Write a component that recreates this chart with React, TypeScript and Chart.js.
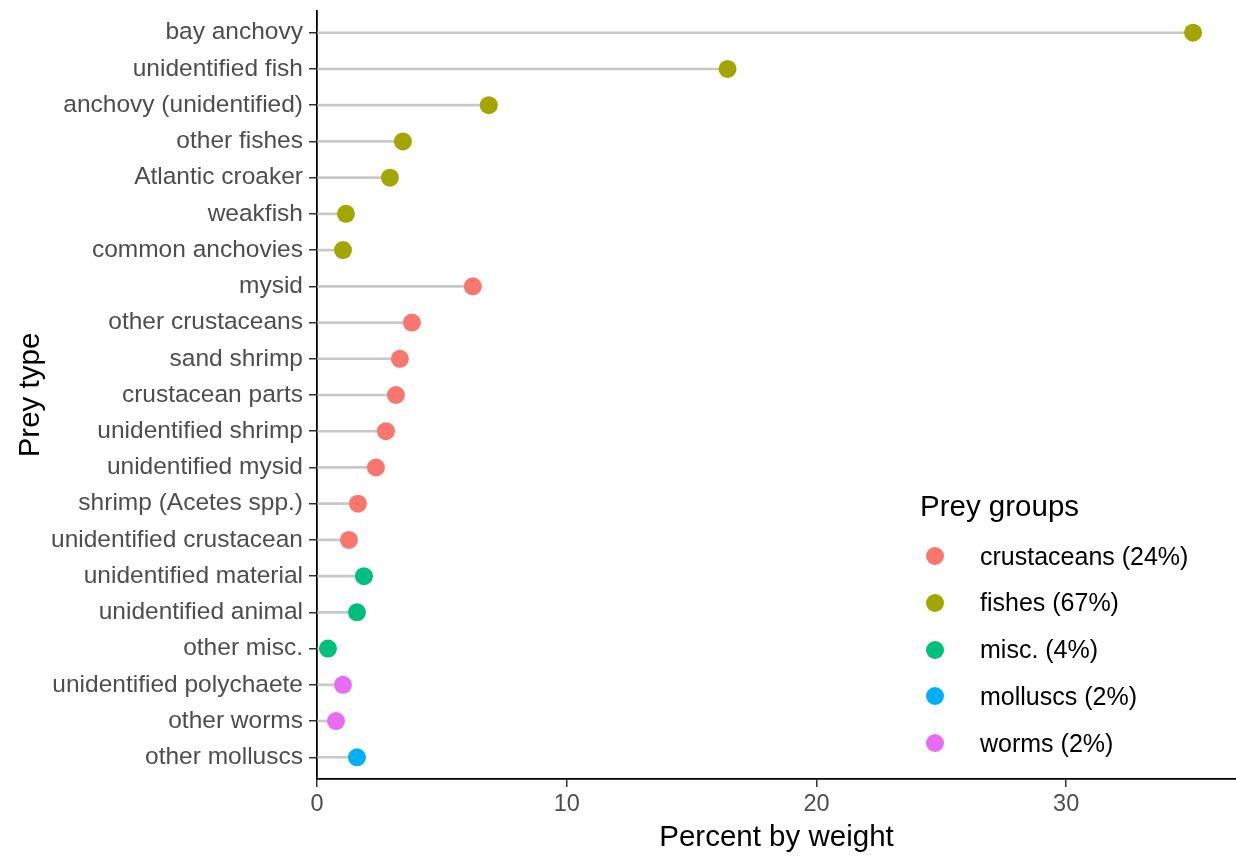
import React, { useEffect, useRef } from "react";
import { Chart, registerables } from "chart.js";

Chart.register(...registerables);

const categories = [
  "bay anchovy", "unidentified fish", "anchovy (unidentified)", "other fishes", "Atlantic croaker",
  "weakfish", "common anchovies", "mysid", "other crustaceans", "sand shrimp", "crustacean parts",
  "unidentified shrimp", "unidentified mysid", "shrimp (Acetes spp.)", "unidentified crustacean",
  "unidentified material", "unidentified animal", "other misc.", "unidentified polychaete",
  "other worms", "other molluscs",
];
const values = [
  35.08, 16.44, 6.88, 3.44, 2.92, 1.16, 1.04, 6.24, 3.8, 3.32, 3.16, 2.76, 2.36, 1.64, 1.28,
  1.88, 1.6, 0.44, 1.04, 0.76, 1.6,
];
const groups = [
  "fishes", "fishes", "fishes", "fishes", "fishes", "fishes", "fishes",
  "crustaceans", "crustaceans", "crustaceans", "crustaceans", "crustaceans", "crustaceans", "crustaceans", "crustaceans",
  "misc.", "misc.", "misc.", "worms", "worms", "molluscs",
];
const groupNames = ["crustaceans", "fishes", "misc.", "molluscs", "worms"];
const groupLabels = ["crustaceans (24%)", "fishes (67%)", "misc. (4%)", "molluscs (2%)", "worms (2%)"];
const groupColors = ["#F8766D", "#A3A500", "#00BF7D", "#00B0F6", "#E76BF3"];
const xTicks = [0, 10, 20, 30];

const FONT = "'Liberation Sans', Arial, sans-serif";

export default function App() {
  const ref = useRef<HTMLCanvasElement>(null);
  useEffect(() => {
    const ctx = ref.current!;
    const stems = {
      type: "bar" as const,
      label: "stems",
      data: values.map((v, i) => ({ x: v, y: i })),
      backgroundColor: "#C8C8C8",
      borderWidth: 0,
      barThickness: 2,
      indexAxis: "y" as const,
      order: 10,
    };
    const pts = groupNames.map((g, gi) => ({
      type: "scatter" as const,
      label: groupLabels[gi],
      data: values
        .map((v, i) => ({ x: v, y: i, g: groups[i] }))
        .filter((d) => d.g === g)
        .map((d) => ({ x: d.x, y: d.y })),
      backgroundColor: groupColors[gi],
      borderColor: groupColors[gi],
      borderWidth: 0,
      pointRadius: 9,
      pointHoverRadius: 9,
      order: 1,
    }));
    const chart = new Chart(ctx, {
      type: "bar",
      data: { datasets: [stems as any, ...(pts as any)] },
      options: {
        animation: false,
        responsive: false,
        indexAxis: "y",
        layout: { padding: { top: 11, right: 0, left: 0, bottom: 0 } },
        plugins: { legend: { display: false }, tooltip: { enabled: false } },
        scales: {
          x: {
            type: "linear",
            position: "bottom",
            min: 0,
            max: 36.8,
            offset: false,
            afterFit: (s: any) => { s.height = 79; s.paddingLeft = 0; s.paddingRight = 0; },
            afterBuildTicks: (s: any) => { s.ticks = xTicks.map((v) => ({ value: v })); },
            grid: { display: true, offset: false, drawOnChartArea: false, drawTicks: true, tickLength: 8, color: "#333333", lineWidth: 1.5 },
            border: { display: true, color: "#000000", width: 1.8 },
            ticks: { color: "#4D4D4D", font: { family: FONT, size: 23.5 }, padding: 3, includeBounds: false },
            title: { display: true, text: "Percent by weight", color: "#000000", font: { family: FONT, size: 29.5 }, padding: { top: 4, bottom: 2 } },
          },
          y: {
            type: "linear",
            position: "left",
            reverse: true,
            min: -0.6,
            max: 20.6,
            offset: false,
            afterFit: (s: any) => { s.width = 317; s.paddingTop = 0; s.paddingBottom = 0; },
            afterBuildTicks: (s: any) => { s.ticks = categories.map((_, i) => ({ value: i })); },
            grid: { display: true, offset: false, drawOnChartArea: false, drawTicks: true, tickLength: 8, color: "#333333", lineWidth: 1.5 },
            border: { display: true, color: "#000000", width: 1.8 },
            ticks: {
              color: "#4D4D4D",
              font: { family: FONT, size: 24.5 },
              padding: 6,
              autoSkip: false,
              callback: (v: any) => categories[v as number] ?? "",
            },
            title: { display: true, text: "Prey type", color: "#000000", font: { family: FONT, size: 29.5 }, padding: { top: 13, bottom: 0 } },
          },
        },
      },
    });
    return () => chart.destroy();
  }, []);

  return (
    <div style={{ position: "absolute", left: 0, top: 0, width: 1236, height: 858, background: "#fff", overflow: "hidden" }}>
      <canvas ref={ref} width={1245} height={858} style={{ display: "block" }} />
      <div style={{ position: "absolute", left: 920, top: 488, fontFamily: FONT, color: "#000", fontSize: 29.5, lineHeight: "36px", whiteSpace: "nowrap" }}>
        Prey groups
      </div>
      {groupLabels.map((lab, i) => (
        <div key={lab} style={{ position: "absolute", left: 926, top: 556 + i * 46.75 - 18, height: 36, display: "flex", alignItems: "center", fontFamily: FONT, color: "#000", fontSize: 25, whiteSpace: "nowrap" }}>
          <span style={{ display: "inline-block", width: 18, height: 18, borderRadius: 9, background: groupColors[i], marginRight: 36 }} />
          <span>{lab}</span>
        </div>
      ))}
    </div>
  );
}
